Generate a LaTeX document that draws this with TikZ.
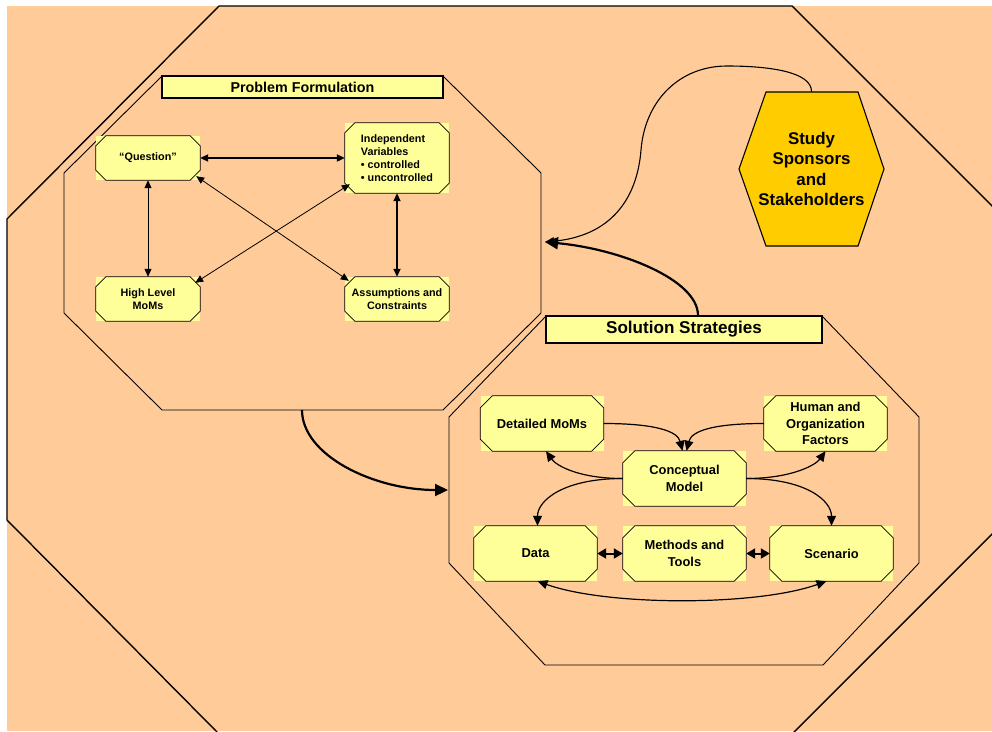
\documentclass[tikz,border=0pt]{standalone}
\usepackage{fontspec}
\setmainfont{Liberation Sans}
\usetikzlibrary{arrows.meta}
\definecolor{bg}{HTML}{FFCC99}
\definecolor{yl}{HTML}{FFFF99}
\definecolor{gold}{HTML}{FFCC00}
\newcommand\chamferbox[3][0.8pt]{%
  \draw[line width=#1] ([xshift=#3]#2.north west) -- ([xshift=-#3]#2.north east) -- ([yshift=-#3]#2.north east) -- ([yshift=#3]#2.south east) -- ([xshift=-#3]#2.south east) -- ([xshift=#3]#2.south west) -- ([yshift=#3]#2.south west) -- ([yshift=-#3]#2.north west) -- cycle;}
\begin{document}
\begin{tikzpicture}[x=1pt,y=-1pt,
  box/.style={fill=yl, inner sep=0pt, align=center, text=black},
  pfbox/.style={box, minimum width=104pt, minimum height=44pt, font=\fontsize{10.8}{13}\selectfont\bfseries},
  ssbox/.style={box, minimum width=123pt, minimum height=55pt, font=\fontsize{12.9}{16.3}\selectfont\bfseries},
  titlebox/.style={fill=yl, draw=black, line width=1.1pt, inner sep=0pt},
  thinarr/.style={line width=0.8pt, {Triangle[length=8pt,width=7pt]}-{Triangle[length=8pt,width=7pt]}},
  medarr/.style={line width=1.2pt, -{Triangle[length=10pt,width=9pt]}},
  bigarr/.style={line width=2.2pt, -{Triangle[length=13pt,width=12pt]}},
  shortarr/.style={line width=2pt, {Triangle[length=9pt,width=10pt]}-{Triangle[length=9pt,width=10pt]}}
]
\useasboundingbox (0,0) rectangle (992,731);
\fill[bg] (7,6) rectangle (992,731);
% outer octagon
\begin{scope}
\clip (0,0) rectangle (992,731);
\draw[line width=1.4pt] (219,6) -- (792,6) -- (1004,218) -- (1004,522) -- (793,733) -- (218,733) -- (7,520) -- (7,219) -- cycle;
\end{scope}
% Problem Formulation octagon
\draw[line width=0.9pt] (162,76) -- (443,76) -- (541,173) -- (541,313) -- (443,410) -- (162,410) -- (64,313) -- (64,173) -- cycle;
\coordinate (pfout) at (302,410);
% Solution Strategies octagon
\draw[line width=0.9pt] (546,316) -- (822,316) -- (919,417) -- (919,563) -- (823,665) -- (545,665) -- (449,563) -- (449,417) -- cycle;
\coordinate (ssin) at (448,490);
% titles
\node[titlebox, minimum width=281pt, minimum height=22pt, font=\fontsize{14.3}{16}\selectfont\bfseries] (pft) at (302.5,87) {Problem Formulation};
\node[titlebox, minimum width=276pt, minimum height=27pt, font=\fontsize{17.1}{20}\selectfont\bfseries] (sst) at (684,329.5) {Solution Strategies};
% hexagon
\draw[fill=gold, line width=1.1pt] (766,92) -- (858,92) -- (884,169) -- (858,246) -- (766,246) -- (739,169) -- cycle;
\node[inner sep=0pt, minimum width=92pt, minimum height=154pt, align=center, font=\fontsize{16.9}{20.5}\selectfont\bfseries] (hex) at (811.5,169) {Study\\Sponsors\\and\\Stakeholders};
\coordinate (tip) at (545,242);
% PF nodes
\node[pfbox] (q) at (148,158) {“Question”};
\node[pfbox, minimum height=70pt, align=left] (iv) at (397,158) {Independent\\Variables\\• controlled\\• uncontrolled};
\node[pfbox] (hl) at (148,299) {High Level\\MoMs};
\node[pfbox] (ac) at (397,299) {Assumptions and\\Constraints};
\foreach \n in {q,iv,hl,ac} {\chamferbox{\n}{10pt}}
% SS nodes
\node[ssbox] (dm) at (542,423.5) {Detailed MoMs};
\node[ssbox] (hof) at (825.5,423.5) {Human and\\Organization\\Factors};
\node[ssbox] (cm) at (684.5,478.5) {Conceptual\\Model};
\node[ssbox] (data) at (535.5,553.5) {Data};
\node[ssbox] (mt) at (684.5,553.5) {Methods and\\Tools};
\node[ssbox] (sc) at (831.5,553.5) {Scenario};
\foreach \n in {dm,hof,cm,data,mt,sc} {\chamferbox{\n}{12pt}}
% PF arrows
\draw[thinarr, line width=2pt] (q.east) -- (iv.west);
\draw[thinarr, line width=1pt] (q.south) -- (hl.north);
\draw[thinarr, line width=1.8pt] (iv.south) -- (ac.north);
\draw[thinarr] ([xshift=-4pt,yshift=4pt]q.south east) -- ([xshift=4pt,yshift=-4pt]ac.north west);
\draw[thinarr] ([xshift=5pt,yshift=9pt]iv.south west) -- ([xshift=-5pt,yshift=-6pt]hl.north east);
% SS arrows
\draw[medarr] (dm.east) .. controls +(50,0) and +(-5,-20) .. ([xshift=-2pt]cm.north);
\draw[medarr] (hof.west) .. controls +(-50,0) and +(5,-20) .. ([xshift=2pt]cm.north);
\draw[medarr] (cm.west) .. controls +(-45,0) and +(10,14) .. ([xshift=4pt]dm.south);
\draw[medarr] (cm.east) .. controls +(45,0) and +(-10,14) .. (hof.south);
\draw[medarr] (cm.west) .. controls +(-60,0) and +(0,-25) .. ([xshift=2pt]data.north);
\draw[medarr] (cm.east) .. controls +(60,0) and +(0,-25) .. (sc.north);
\draw[medarr, {Triangle[length=10pt,width=9pt]}-{Triangle[length=10pt,width=9pt]}] ([xshift=2pt]data.south) .. controls +(70,25) and +(-70,25) .. ([xshift=-5pt]sc.south);
\draw[shortarr] (data.east) -- (mt.west);
\draw[shortarr] (mt.east) -- (sc.west);
% big arrows
\draw[bigarr] (pfout) .. controls +(0,45) and +(-75,0) .. (ssin);
\draw[bigarr] ([xshift=14pt]sst.north) .. controls +(0,-36) and +(75,7) .. (tip);
\draw[line width=1.1pt, -{Triangle[length=9pt,width=8pt]}] (hex.north) .. controls (812,72) and (770,66) .. (727,66) .. controls (680,66) and (645,100) .. (641,150) .. controls (637,200) and (610,236) .. (tip);
\end{tikzpicture}
\end{document}
